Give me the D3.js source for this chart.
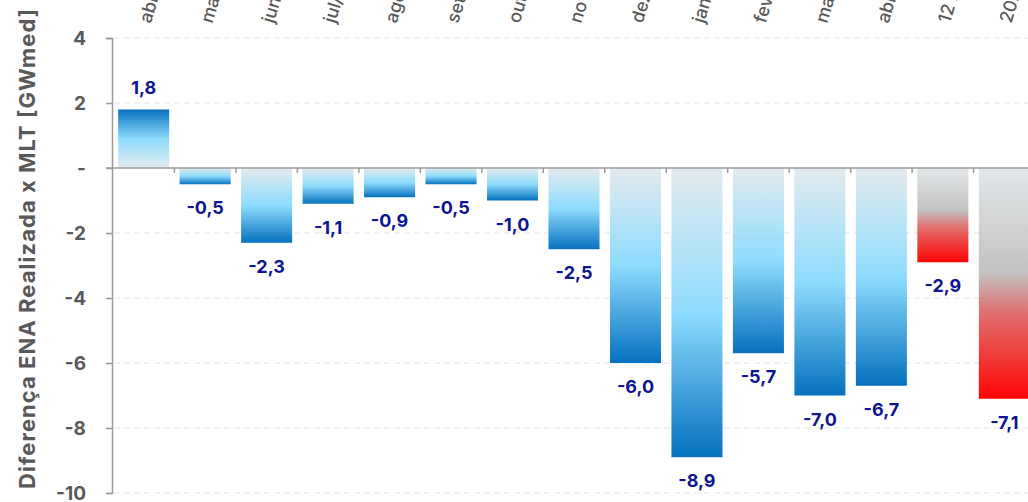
<!DOCTYPE html>
<html>
<head>
<meta charset="utf-8">
<script src="https://cdn.jsdelivr.net/npm/d3@7"></script>
<style>
  body { margin: 0; background: #fff; }
  svg { display: block; font-family: Inter, "Noto Sans", sans-serif; }
</style>
</head>
<body>
<svg id="chart"></svg>
<script>
const categories = ["abr/21", "mai/21", "jun/21", "jul/21", "ago/21", "set/21", "out/21",
    "nov/21", "dez/21", "jan/22", "fev/22", "mar/22", "abr/22", "12 meses", "2022"];
const values = [1.8, -0.5, -2.3, -1.1, -0.9, -0.5, -1.0, -2.5, -6.0, -8.9, -5.7, -7.0, -6.7, -2.9, -7.1];
const highlighted = ["12 meses", "2022"];
const yTicks = [4, 2, 0, -2, -4, -6, -8, -10];

const width = 1028;
const height = 502;

const svg = d3.select("#chart")
    .attr("width", width)
    .attr("height", height);

const x = d3.scaleBand()
    .domain(categories)
    .range([112, 1036])
    .paddingInner(0.17)
    .paddingOuter(0.1);

const y = d3.scaleLinear()
    .domain([-10, 4])
    .range([493, 38]);

/* gradients: light at the zero end, dark at the far end */
const defs = svg.append("defs");
function gradient(id, stops, up) {
    const g = defs.append("linearGradient")
        .attr("id", id)
        .attr("x1", 0).attr("x2", 0)
        .attr("y1", up ? 1 : 0).attr("y2", up ? 0 : 1);
    stops.forEach((s) => {
        g.append("stop").attr("offset", s[0]).attr("stop-color", s[1]);
    });
}
const blueStops = [[0, "#e3eaee"], [0.5, "#8edcfd"], [1, "#0571bf"]];
const redStops = [[0, "#e2e6e8"], [0.45, "#c2c2c2"], [0.62, "#df7272"], [1, "#ff0505"]];
gradient("blueDown", blueStops, false);
gradient("blueUp", blueStops, true);
gradient("redDown", redStops, false);
gradient("redUp", redStops, true);

/* grid */
svg.append("g")
    .selectAll("line")
    .data(yTicks.filter((d) => d !== 0))
    .join("line")
    .attr("x1", 114)
    .attr("x2", width)
    .attr("y1", (d) => y(d))
    .attr("y2", (d) => y(d))
    .attr("stroke", "#dde7eb")
    .attr("stroke-width", 1)
    .attr("stroke-dasharray", "6,4");

/* bars */
svg.append("g")
    .selectAll("rect")
    .data(categories)
    .join("rect")
    .attr("x", (d) => x(d))
    .attr("width", x.bandwidth())
    .attr("y", (d, i) => y(Math.max(0, values[i])))
    .attr("height", (d, i) => Math.abs(y(values[i]) - y(0)))
    .attr("fill", (d, i) => {
        const c = highlighted.includes(d) ? "red" : "blue";
        return `url(#${c}${values[i] >= 0 ? "Up" : "Down"})`;
    });

/* y axis */
const yAxis = svg.append("g")
    .attr("transform", "translate(112,0)")
    .call(d3.axisLeft(y)
        .tickValues(yTicks)
        .tickSize(6)
        .tickPadding(20)
        .tickFormat((d) => d === 0 ? "-" : d3.format("d")(d).replace("−", "-")));
yAxis.select(".domain").attr("stroke", "#9a9a9a").attr("stroke-width", 1.5);
yAxis.selectAll(".tick line").attr("stroke", "#9a9a9a").attr("stroke-width", 1.5);
yAxis.selectAll(".tick text")
    .attr("fill", "#595959")
    .attr("font-size", 19)
    .attr("font-weight", 700)
    .attr("font-family", "Inter, sans-serif");

/* zero line with band ticks */
const step = x.step();
const zero = svg.append("g");
zero.append("line")
    .attr("x1", 106).attr("x2", width)
    .attr("y1", y(0)).attr("y2", y(0))
    .attr("stroke", "#9a9a9a")
    .attr("stroke-width", 1.5);
zero.selectAll("line.tk")
    .data(categories.slice(1))
    .join("line")
    .attr("class", "tk")
    .attr("x1", (d) => x(d) - step * x.paddingInner() / 2)
    .attr("x2", (d) => x(d) - step * x.paddingInner() / 2)
    .attr("y1", y(0))
    .attr("y2", y(0) + 5)
    .attr("stroke", "#9a9a9a")
    .attr("stroke-width", 1.5);

/* value labels */
svg.append("g")
    .selectAll("text")
    .data(categories)
    .join("text")
    .attr("x", (d) => x(d) + x.bandwidth() / 2)
    .attr("y", (d, i) => values[i] >= 0 ? y(values[i]) - 16 : y(values[i]) + 30)
    .attr("text-anchor", "middle")
    .attr("fill", "#0f1490")
    .attr("font-size", 18)
    .attr("font-weight", 700)
    .text((d, i) => d3.format(".1f")(values[i]).replace("−", "-").replace(".", ","));

/* category labels, rotated at the top, running off the page */
svg.append("g")
    .selectAll("text")
    .data(categories)
    .join("text")
    .attr("transform", (d) => `translate(${x(d) + x.bandwidth() / 2 + 7},24) rotate(-73)`)
    .attr("fill", "#595959")
    .attr("font-size", 18)
    .attr("font-weight", 500)
    .text((d) => d);

/* y title */
svg.append("text")
    .attr("transform", `translate(35,${249}) rotate(-90)`)
    .attr("text-anchor", "middle")
    .attr("fill", "#595959")
    .attr("font-size", 22)
    .attr("font-weight", 700)
    .attr("textLength", 480)
    .attr("lengthAdjust", "spacing")
    .text("Diferença ENA Realizada x MLT [GWmed]");
</script>
</body>
</html>
